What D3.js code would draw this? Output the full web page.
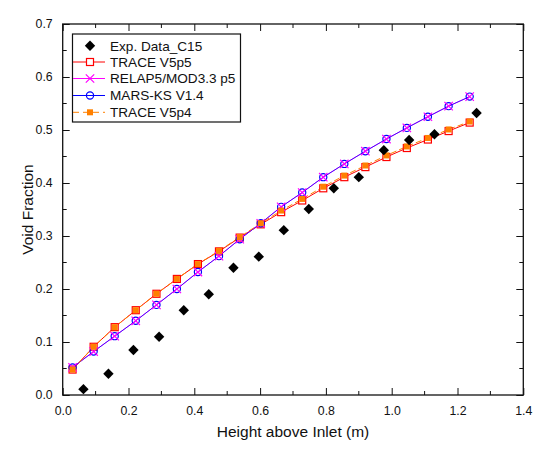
<!DOCTYPE html>
<html><head><meta charset="utf-8">
<script src="https://cdn.jsdelivr.net/npm/d3@7"></script>
<style>body{margin:0;background:#fff}svg{display:block;font-family:Arial,"Liberation Sans",sans-serif}</style>
</head><body><svg id="c" width="560" height="472"></svg>
<script>
const expX = [0.063,0.139,0.215,0.293,0.368,0.444,0.519,0.596,0.672,0.748,0.824,0.900,0.976,1.053,1.130,1.258];
const expY = [0.011,0.040,0.085,0.110,0.160,0.190,0.240,0.261,0.311,0.351,0.390,0.411,0.462,0.481,0.492,0.532];
const simX = [0.030,0.094,0.158,0.222,0.285,0.347,0.411,0.475,0.538,0.602,0.664,0.728,0.792,0.856,0.920,0.984,1.046,1.110,1.173,1.237];
const traceV5p5 = [0.048,0.091,0.128,0.160,0.191,0.219,0.247,0.271,0.297,0.322,0.345,0.367,0.390,0.411,0.430,0.449,0.466,0.482,0.498,0.514];
const relap5 = [0.052,0.082,0.111,0.140,0.170,0.200,0.232,0.262,0.294,0.324,0.355,0.382,0.411,0.436,0.460,0.483,0.504,0.525,0.545,0.563];
const marsKS = [0.052,0.082,0.111,0.140,0.170,0.200,0.232,0.262,0.294,0.324,0.355,0.382,0.411,0.436,0.460,0.483,0.504,0.525,0.545,0.563];
const traceV5p4 = [0.048,0.091,0.128,0.160,0.191,0.219,0.247,0.272,0.298,0.324,0.348,0.370,0.393,0.414,0.433,0.452,0.469,0.485,0.501,0.516];
const xTicks = [0.0,0.2,0.4,0.6,0.8,1.0,1.2,1.4];
const yTicks = [0.0,0.1,0.2,0.3,0.4,0.5,0.6,0.7];
const legendLabels = ["Exp. Data_C15","TRACE V5p5","RELAP5/MOD3.3 p5","MARS-KS V1.4","TRACE V5p4"];

const svg = d3.select("#c");
const x = d3.scaleLinear().domain([0,1.4]).range([62.7,523.3]);
const y = d3.scaleLinear().domain([0,0.7]).range([395,24]);
const L=x.range()[0], R=x.range()[1], T=y.range()[1], B=y.range()[0];
const ink="#111";

function minor(vals){const out=[];for(let i=0;i<vals.length-1;i++)out.push((vals[i]+vals[i+1])/2);return out;}
const gx = svg.append("g").attr("transform",`translate(0,${B})`)
  .call(d3.axisBottom(x).tickValues(xTicks).tickFormat(d3.format(".1f")).tickSizeInner(-7).tickSizeOuter(0).tickPadding(11));
const gy = svg.append("g").attr("transform",`translate(${L},0)`)
  .call(d3.axisLeft(y).tickValues(yTicks).tickFormat(d3.format(".1f")).tickSizeInner(-7).tickSizeOuter(0).tickPadding(10));
[gx,gy].forEach(g=>{g.select(".domain").remove();g.selectAll("line").attr("stroke",ink);g.selectAll("text").attr("fill",ink).attr("font-size",12.3).attr("font-family","Arial, 'Liberation Sans', sans-serif");});
const gt = svg.append("g").attr("transform",`translate(0,${T})`).call(d3.axisTop(x).tickValues(xTicks).tickFormat("").tickSizeInner(-7).tickSizeOuter(0));
const gr = svg.append("g").attr("transform",`translate(${R},0)`).call(d3.axisRight(y).tickValues(yTicks).tickFormat("").tickSizeInner(-7).tickSizeOuter(0));
[gt,gr].forEach(g=>{g.select(".domain").remove();g.selectAll("line").attr("stroke",ink);});
const mx=minor(xTicks), my=minor(yTicks);
svg.append("g").selectAll("line").data(mx).join("line").attr("x1",d=>x(d)).attr("x2",d=>x(d)).attr("y1",B).attr("y2",B-4).attr("stroke",ink);
svg.append("g").selectAll("line").data(mx).join("line").attr("x1",d=>x(d)).attr("x2",d=>x(d)).attr("y1",T).attr("y2",T+4).attr("stroke",ink);
svg.append("g").selectAll("line").data(my).join("line").attr("y1",d=>y(d)).attr("y2",d=>y(d)).attr("x1",L).attr("x2",L+4).attr("stroke",ink);
svg.append("g").selectAll("line").data(my).join("line").attr("y1",d=>y(d)).attr("y2",d=>y(d)).attr("x1",R).attr("x2",R-4).attr("stroke",ink);
svg.append("rect").attr("x",L).attr("y",T).attr("width",R-L).attr("height",B-T).attr("fill","none").attr("stroke",ink).attr("stroke-width",1.3);

svg.append("text").attr("x",(L+R)/2).attr("y",437).attr("text-anchor","middle").attr("font-size",15.5).attr("fill",ink).text("Height above Inlet (m)");
svg.append("text").attr("transform",`translate(33,${(T+B)/2}) rotate(-90)`).attr("text-anchor","middle").attr("font-size",15.5).attr("fill",ink).text("Void Fraction");

const line = d3.line().x(d=>x(d[0])).y(d=>y(d[1]));
const zip = ys => simX.map((v,i)=>[v,ys[i]]);
const sq = (g,cx,cy,s,fill,stroke)=>g.append("rect").attr("x",cx-s/2).attr("y",cy-s/2).attr("width",s).attr("height",s).attr("fill",fill).attr("stroke",stroke).attr("stroke-width",1.2);
const circ = (g,cx,cy)=>g.append("circle").attr("cx",cx).attr("cy",cy).attr("r",3.6).attr("fill","none").attr("stroke","#0000ff").attr("stroke-width",1.2);
const cross = (g,cx,cy)=>{const h=4.2;g.append("path").attr("d",`M${cx-h},${cy-h}L${cx+h},${cy+h}M${cx-h},${cy+h}L${cx+h},${cy-h}`).attr("stroke","#ff00ff").attr("stroke-width",1.2);};
const diam = (g,cx,cy)=>{const h=5.2;g.append("path").attr("d",`M${cx},${cy-h}L${cx+h},${cy}L${cx},${cy+h}L${cx-h},${cy}Z`).attr("fill","#000");};

const plot = svg.append("g");
plot.append("path").datum(zip(traceV5p5)).attr("d",line).attr("fill","none").attr("stroke","#ff0000").attr("stroke-width",1);
plot.append("path").datum(zip(relap5)).attr("d",line).attr("fill","none").attr("stroke","#ff00ff").attr("stroke-width",1);
plot.append("path").datum(zip(marsKS)).attr("d",line).attr("fill","none").attr("stroke","#0000ff").attr("stroke-width",1).attr("stroke-opacity",0.7);
plot.append("path").datum(zip(traceV5p4)).attr("d",line).attr("fill","none").attr("stroke","#ff8000").attr("stroke-width",1).attr("stroke-dasharray","6,3");
simX.forEach((v,i)=>sq(plot,x(v),y(traceV5p5[i]),7,"#fff","#ff0000"));
simX.forEach((v,i)=>circ(plot,x(v),y(marsKS[i])));
simX.forEach((v,i)=>cross(plot,x(v),y(relap5[i])));
simX.forEach((v,i)=>sq(plot,x(v),y(traceV5p4[i]),6,"#ff8000","none"));
expX.forEach((v,i)=>diam(plot,x(v),y(expY[i])));

const lg = svg.append("g");
lg.append("rect").attr("x",72.5).attr("y",34).attr("width",168).attr("height",88).attr("fill","#fff").attr("stroke",ink).attr("stroke-width",1.2);
const rows=[45.7,62,78.5,95.5,112.3];
legendLabels.forEach((t,i)=>{
  const yy=rows[i];
  if(i===1) lg.append("line").attr("x1",73).attr("x2",105).attr("y1",yy).attr("y2",yy).attr("stroke","#ff0000");
  if(i===2) lg.append("line").attr("x1",73).attr("x2",105).attr("y1",yy).attr("y2",yy).attr("stroke","#ff00ff");
  if(i===3) lg.append("line").attr("x1",73).attr("x2",105).attr("y1",yy).attr("y2",yy).attr("stroke","#0000ff");
  if(i===4) lg.append("line").attr("x1",73).attr("x2",105).attr("y1",yy).attr("y2",yy).attr("stroke","#ff8000").attr("stroke-dasharray","6,4");
  if(i===0) diam(lg,90,yy);
  if(i===1) sq(lg,90,yy,7,"#fff","#ff0000");
  if(i===2) cross(lg,90,yy);
  if(i===3) circ(lg,90,yy);
  if(i===4) sq(lg,90,yy,6,"#ff8000","none");
  lg.append("text").attr("x",110).attr("y",yy+4.8).attr("font-size",13.6).attr("fill",ink).text(t);
});
</script></body></html>
